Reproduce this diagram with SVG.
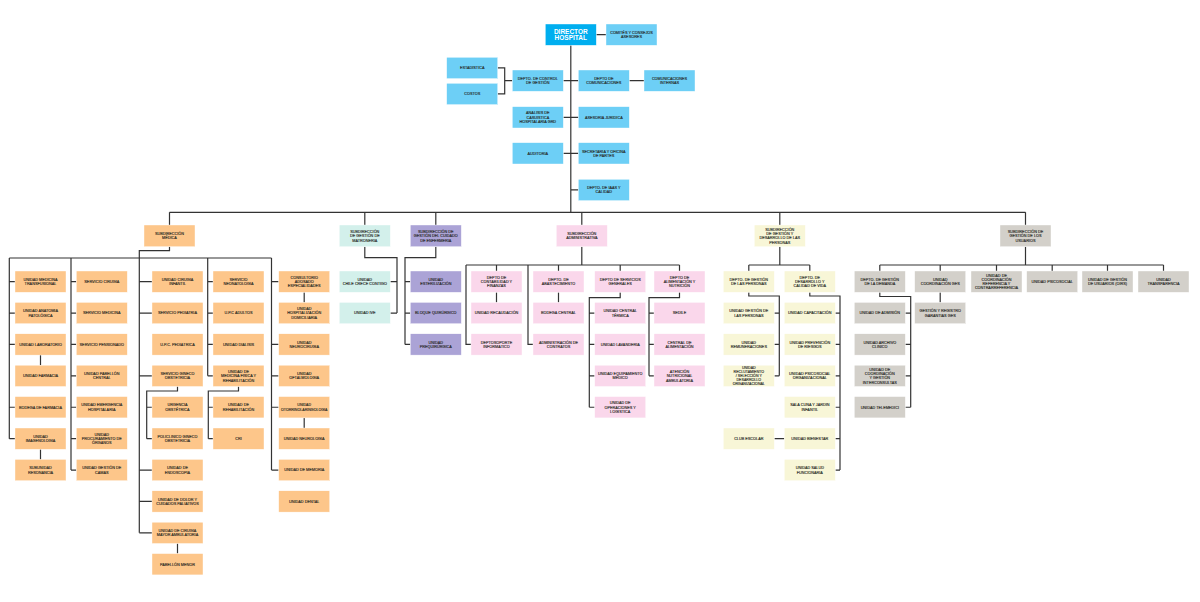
<svg xmlns="http://www.w3.org/2000/svg" width="1200" height="602" viewBox="0 0 1200 602">
<style>
rect{stroke:#ffffff;stroke-width:0.4}
.dir{fill:#00AEEF}.blu{fill:#6DCFF6}.med{fill:#FDC68A}.mat{fill:#D3F0EB}.enf{fill:#ABA3D6}.adm{fill:#FAD7EB}.per{fill:#F8F6D7}.usu{fill:#D3D0CA}
text{font-family:"Liberation Sans",Arial,sans-serif;font-size:3.8px;fill:#231F20;stroke:#231F20;stroke-width:0.12;text-anchor:middle}
.dt{font-size:6.5px;font-weight:bold;fill:#ffffff;stroke:none}
#connectors path{fill:none;stroke:#333333;stroke-width:1.2}
</style>
<rect width="1200" height="602" fill="#ffffff" stroke="none"/>
<g id="connectors">
<path d="M570.8 45.3V212.3M596.3 34.65H606M497.7 67.95H504.7V93.95H497.7M504.7 80.65H512.3M563.3 80.65H578.3M629.3 80.65H644M563.3 117.35H578.3M563.3 153.35H578.3M570.8 189.95H578.3"/>
<path d="M169.5 212.3H1025.5M169.5 212.3V225M364.8 212.3V225M435.8 212.3V225M581.8 212.3V225M779.8 212.3V225M1025.5 212.3V225"/>
<path d="M169.5 246.7V250.7H139.3V532.85M9.3 258H271.5M9.3 258V438.65M9.3 281.65H15M9.3 313.05H15M9.3 344.45H15M9.3 407.25H15M9.3 438.65H15M40.5 355.1V365.2M40.5 449.3V459.4"/>
<path d="M71 258V470.05M71 281.65H76.3M71 313.05H76.3M71 344.45H76.3M71 375.85H76.3M71 407.25H76.3M71 438.65H76.3M71 470.05H76.3"/>
<path d="M139.3 281.65H152M139.3 313.05H152M139.3 375.85H152M139.3 470.05H152M139.3 501.45H152M139.3 532.85H152M177.5 386.5V391H146.7V438.65M146.7 407.25H152M146.7 438.65H152M177.5 543.5V553.6"/>
<path d="M207.7 258V375.85M207.7 281.65H213M207.7 313.05H213M207.7 344.45H213M207.7 375.85H213M238.5 386.5V391H208.3V438.65M208.3 407.25H213M208.3 438.65H213"/>
<path d="M271.5 258V470.05M271.5 281.65H278.7M271.5 344.45H278.7M271.5 375.85H278.7M271.5 407.25H278.7M271.5 470.05H278.7M304.2 292.3V302.4M304.2 417.9V428"/>
<path d="M364.8 246.7V257.7H397V313.05M397 281.65H390.3M397 313.05H390.3"/>
<path d="M435.8 246.7V257.7H405V344.45M405 281.65H410.3M405 313.05H410.3M405 344.45H410.3"/>
<path d="M581.8 246.7V265M466 265H679.5M496.5 265V271M558.5 265V271M620.2 265V271M679.5 265V271M466 265V344.45H471M528 265V344.45H533M496.5 292.3V302.4M558.5 292.3V302.4"/>
<path d="M620.2 292.3V297.7H589.3V407.25M589.3 313.05H594.7M589.3 344.45H594.7M589.3 375.85H594.7M589.3 407.25H594.7M679.5 292.3V297.7H649V375.85M649 313.05H654M649 344.45H654M649 375.85H654"/>
<path d="M779.8 246.7V265M748.8 265H809.8M748.8 265V271M809.8 265V271M748.8 292.3V296H779.3V375.85M779.3 313.05H774.3M779.3 344.45H774.3M779.3 375.85H774.3"/>
<path d="M809.8 292.3V296H840V470.05M840 313.05H835.3M840 344.45H835.3M840 375.85H835.3M840 407.25H835.3M840 438.65H835.3M840 470.05H835.3M774.3 438.65H784.3"/>
<path d="M1025.5 246.7V265M879.8 265H1163.5M879.8 265V271M940.2 265V271M996.5 265V271M1052.2 265V271M1107.5 265V271M1163.5 265V271M879.8 292.3V296.5H910.7V407.25M910.7 313.05H905.3M910.7 344.45H905.3M910.7 375.85H905.3M910.7 407.25H905.3M940.2 292.3V302.4"/>
</g>

<g id="director"><rect class="dir" x="545.3" y="24" width="51" height="21.3"/><text class="dt" x="570.8" y="33.63"><tspan x="570.8">DIRECTOR</tspan><tspan x="570.8" dy="6.7">HOSPITAL</tspan></text></g>
<g id="comites"><rect class="blu" x="606" y="24" width="51" height="21.3"/><text x="631.5" y="33.86"><tspan x="631.5">COMITÉS Y CONSEJOS</tspan><tspan x="631.5" dy="4.3">ASESORES</tspan></text></g>
<g id="estadistica"><rect class="blu" x="446.7" y="57.3" width="51" height="21.3"/><text x="472.2" y="69.31">ESTADÍSTICA</text></g>
<g id="costos"><rect class="blu" x="446.7" y="83.3" width="51" height="21.3"/><text x="472.2" y="95.31">COSTOS</text></g>
<g id="control-gestion"><rect class="blu" x="512.3" y="70" width="51" height="21.3"/><text x="537.8" y="79.86"><tspan x="537.8">DEPTO. DE CONTROL</tspan><tspan x="537.8" dy="4.3">DE GESTIÓN</tspan></text></g>
<g id="comunicaciones"><rect class="blu" x="578.3" y="70" width="51" height="21.3"/><text x="603.8" y="79.86"><tspan x="603.8">DEPTO DE</tspan><tspan x="603.8" dy="4.3">COMUNICACIONES</tspan></text></g>
<g id="com-internas"><rect class="blu" x="644" y="70" width="51" height="21.3"/><text x="669.5" y="79.86"><tspan x="669.5">COMUNICACIONES</tspan><tspan x="669.5" dy="4.3">INTERNAS</tspan></text></g>
<g id="analisis-grd"><rect class="blu" x="512.3" y="106.7" width="51" height="21.3"/><text x="537.8" y="114.41"><tspan x="537.8">ANÁLISIS DE</tspan><tspan x="537.8" dy="4.3">CASUÍSTICA</tspan><tspan x="537.8" dy="4.3">HOSPITALARIA GRD</tspan></text></g>
<g id="juridica"><rect class="blu" x="578.3" y="106.7" width="51" height="21.3"/><text x="603.8" y="118.71">ASESORÍA JURÍDICA</text></g>
<g id="auditoria"><rect class="blu" x="512.3" y="142.7" width="51" height="21.3"/><text x="537.8" y="154.71">AUDITORÍA</text></g>
<g id="secretaria"><rect class="blu" x="578.3" y="142.7" width="51" height="21.3"/><text x="603.8" y="152.56"><tspan x="603.8">SECRETARÍA Y OFICINA</tspan><tspan x="603.8" dy="4.3">DE PARTES</tspan></text></g>
<g id="iaas"><rect class="blu" x="578.3" y="179.3" width="51" height="21.3"/><text x="603.8" y="189.16"><tspan x="603.8">DEPTO. DE IAAS Y</tspan><tspan x="603.8" dy="4.3">CALIDAD</tspan></text></g>

<g id="sub-medica"><rect class="med" x="144" y="225" width="51" height="21.7"/><text x="169.5" y="235.06"><tspan x="169.5">SUBDIRECCIÓN</tspan><tspan x="169.5" dy="4.3">MÉDICA</tspan></text></g>
<g id="sub-matroneria"><rect class="mat" x="339.3" y="225" width="51" height="21.7"/><text x="364.8" y="232.91"><tspan x="364.8">SUBDIRECCIÓN</tspan><tspan x="364.8" dy="4.3">DE GESTIÓN DE</tspan><tspan x="364.8" dy="4.3">MATRONERÍA</tspan></text></g>
<g id="sub-enfermeria"><rect class="enf" x="410.3" y="225" width="51" height="21.7"/><text x="435.8" y="232.91"><tspan x="435.8">SUBDIRECCIÓN DE</tspan><tspan x="435.8" dy="4.3">GESTIÓN DEL CUIDADO</tspan><tspan x="435.8" dy="4.3">DE ENFERMERÍA</tspan></text></g>
<g id="sub-administrativa"><rect class="adm" x="556.3" y="225" width="51" height="21.7"/><text x="581.8" y="235.06"><tspan x="581.8">SUBDIRECCIÓN</tspan><tspan x="581.8" dy="4.3">ADMINISTRATIVA</tspan></text></g>
<g id="sub-personas"><rect class="per" x="754.3" y="225" width="51" height="21.7"/><text x="779.8" y="230.76"><tspan x="779.8">SUBDIRECCIÓN</tspan><tspan x="779.8" dy="4.3">DE GESTIÓN Y</tspan><tspan x="779.8" dy="4.3">DESARROLLO DE LAS</tspan><tspan x="779.8" dy="4.3">PERSONAS</tspan></text></g>
<g id="sub-usuarios"><rect class="usu" x="1000" y="225" width="51" height="21.7"/><text x="1025.5" y="232.91"><tspan x="1025.5">SUBDIRECCIÓN DE</tspan><tspan x="1025.5" dy="4.3">GESTIÓN DE LOS</tspan><tspan x="1025.5" dy="4.3">USUARIOS</tspan></text></g>

<g id="med-transfusional"><rect class="med" x="15" y="271" width="51" height="21.3"/><text x="40.5" y="280.86"><tspan x="40.5">UNIDAD MEDICINA</tspan><tspan x="40.5" dy="4.3">TRANSFUSIONAL</tspan></text></g>
<g id="anatomia"><rect class="med" x="15" y="302.4" width="51" height="21.3"/><text x="40.5" y="312.26"><tspan x="40.5">UNIDAD ANATOMÍA</tspan><tspan x="40.5" dy="4.3">PATOLÓGICA</tspan></text></g>
<g id="laboratorio"><rect class="med" x="15" y="333.8" width="51" height="21.3"/><text x="40.5" y="345.81">UNIDAD LABORATORIO</text></g>
<g id="farmacia"><rect class="med" x="15" y="365.2" width="51" height="21.3"/><text x="40.5" y="377.21">UNIDAD FARMACIA</text></g>
<g id="bodega-farmacia"><rect class="med" x="15" y="396.6" width="51" height="21.3"/><text x="40.5" y="408.61">BODEGA DE FARMACIA</text></g>
<g id="imagenologia"><rect class="med" x="15" y="428" width="51" height="21.3"/><text x="40.5" y="437.86"><tspan x="40.5">UNIDAD</tspan><tspan x="40.5" dy="4.3">IMAGENOLOGÍA</tspan></text></g>
<g id="resonancia"><rect class="med" x="15" y="459.4" width="51" height="21.3"/><text x="40.5" y="469.26"><tspan x="40.5">SUBUNIDAD</tspan><tspan x="40.5" dy="4.3">RESONANCIA</tspan></text></g>

<g id="cirugia"><rect class="med" x="76.3" y="271" width="51" height="21.3"/><text x="101.8" y="283.01">SERVICIO CIRUGÍA</text></g>
<g id="medicina"><rect class="med" x="76.3" y="302.4" width="51" height="21.3"/><text x="101.8" y="314.41">SERVICIO MEDICINA</text></g>
<g id="pensionado"><rect class="med" x="76.3" y="333.8" width="51" height="21.3"/><text x="101.8" y="345.81">SERVICIO PENSIONADO</text></g>
<g id="pabellon-central"><rect class="med" x="76.3" y="365.2" width="51" height="21.3"/><text x="101.8" y="375.06"><tspan x="101.8">UNIDAD PABELLÓN</tspan><tspan x="101.8" dy="4.3">CENTRAL</tspan></text></g>
<g id="emergencia"><rect class="med" x="76.3" y="396.6" width="51" height="21.3"/><text x="101.8" y="406.46"><tspan x="101.8">UNIDAD EMERGENCIA</tspan><tspan x="101.8" dy="4.3">HOSPITALARIA</tspan></text></g>
<g id="procuramiento"><rect class="med" x="76.3" y="428" width="51" height="21.3"/><text x="101.8" y="435.71"><tspan x="101.8">UNIDAD</tspan><tspan x="101.8" dy="4.3">PROCURAMIENTO DE</tspan><tspan x="101.8" dy="4.3">ÓRGANOS</tspan></text></g>
<g id="gestion-camas"><rect class="med" x="76.3" y="459.4" width="51" height="21.3"/><text x="101.8" y="469.26"><tspan x="101.8">UNIDAD GESTIÓN DE</tspan><tspan x="101.8" dy="4.3">CAMAS</tspan></text></g>

<g id="cirugia-infantil"><rect class="med" x="152" y="271" width="51" height="21.3"/><text x="177.5" y="280.86"><tspan x="177.5">UNIDAD CIRUGÍA</tspan><tspan x="177.5" dy="4.3">INFANTIL</tspan></text></g>
<g id="pediatria"><rect class="med" x="152" y="302.4" width="51" height="21.3"/><text x="177.5" y="314.41">SERVICIO PEDIATRÍA</text></g>
<g id="upc-pediatrica"><rect class="med" x="152" y="333.8" width="51" height="21.3"/><text x="177.5" y="345.81">U.P.C. PEDIÁTRICA</text></g>
<g id="gineco"><rect class="med" x="152" y="365.2" width="51" height="21.3"/><text x="177.5" y="375.06"><tspan x="177.5">SERVICIO GINECO</tspan><tspan x="177.5" dy="4.3">OBSTETRICIA</tspan></text></g>
<g id="urgencia-obst"><rect class="med" x="152" y="396.6" width="51" height="21.3"/><text x="177.5" y="406.46"><tspan x="177.5">URGENCIA</tspan><tspan x="177.5" dy="4.3">OBSTÉTRICA</tspan></text></g>
<g id="policlinico"><rect class="med" x="152" y="428" width="51" height="21.3"/><text x="177.5" y="437.86"><tspan x="177.5">POLICLÍNICO GINECO</tspan><tspan x="177.5" dy="4.3">OBSTETRICIA</tspan></text></g>
<g id="endoscopia"><rect class="med" x="152" y="459.4" width="51" height="21.3"/><text x="177.5" y="469.26"><tspan x="177.5">UNIDAD DE</tspan><tspan x="177.5" dy="4.3">ENDOSCOPÍA</tspan></text></g>
<g id="dolor"><rect class="med" x="152" y="490.8" width="51" height="21.3"/><text x="177.5" y="500.66"><tspan x="177.5">UNIDAD DE DOLOR Y</tspan><tspan x="177.5" dy="4.3">CUIDADOS PALIATIVOS</tspan></text></g>
<g id="cma"><rect class="med" x="152" y="522.2" width="51" height="21.3"/><text x="177.5" y="532.06"><tspan x="177.5">UNIDAD DE CIRUGÍA</tspan><tspan x="177.5" dy="4.3">MAYOR AMBULATORIA</tspan></text></g>
<g id="pabellon-menor"><rect class="med" x="152" y="553.6" width="51" height="21.3"/><text x="177.5" y="565.61">PABELLÓN MENOR</text></g>

<g id="neonatologia"><rect class="med" x="213" y="271" width="51" height="21.3"/><text x="238.5" y="280.86"><tspan x="238.5">SERVICIO</tspan><tspan x="238.5" dy="4.3">NEONATOLOGÍA</tspan></text></g>
<g id="upc-adultos"><rect class="med" x="213" y="302.4" width="51" height="21.3"/><text x="238.5" y="314.41">U.P.C ADULTOS</text></g>
<g id="dialisis"><rect class="med" x="213" y="333.8" width="51" height="21.3"/><text x="238.5" y="345.81">UNIDAD DIÁLISIS</text></g>
<g id="medicina-fisica"><rect class="med" x="213" y="365.2" width="51" height="21.3"/><text x="238.5" y="372.91"><tspan x="238.5">UNIDAD DE</tspan><tspan x="238.5" dy="4.3">MEDICINA FÍSICA Y</tspan><tspan x="238.5" dy="4.3">REHABILITACIÓN</tspan></text></g>
<g id="rehabilitacion"><rect class="med" x="213" y="396.6" width="51" height="21.3"/><text x="238.5" y="406.46"><tspan x="238.5">UNIDAD DE</tspan><tspan x="238.5" dy="4.3">REHABILITACIÓN</tspan></text></g>
<g id="cri"><rect class="med" x="213" y="428" width="51" height="21.3"/><text x="238.5" y="440.01">CRI</text></g>

<g id="consultorio"><rect class="med" x="278.7" y="271" width="51" height="21.3"/><text x="304.2" y="278.71"><tspan x="304.2">CONSULTORIO</tspan><tspan x="304.2" dy="4.3">ADOSADO</tspan><tspan x="304.2" dy="4.3">ESPECIALIDADES</tspan></text></g>
<g id="hosp-domiciliaria"><rect class="med" x="278.7" y="302.4" width="51" height="21.3"/><text x="304.2" y="310.11"><tspan x="304.2">UNIDAD</tspan><tspan x="304.2" dy="4.3">HOSPITALIZACIÓN</tspan><tspan x="304.2" dy="4.3">DOMICILIARIA</tspan></text></g>
<g id="neurocirugia"><rect class="med" x="278.7" y="333.8" width="51" height="21.3"/><text x="304.2" y="343.66"><tspan x="304.2">UNIDAD</tspan><tspan x="304.2" dy="4.3">NEUROCIRUGÍA</tspan></text></g>
<g id="oftalmologia"><rect class="med" x="278.7" y="365.2" width="51" height="21.3"/><text x="304.2" y="375.06"><tspan x="304.2">UNIDAD</tspan><tspan x="304.2" dy="4.3">OFTALMOLOGÍA</tspan></text></g>
<g id="otorrino"><rect class="med" x="278.7" y="396.6" width="51" height="21.3"/><text x="304.2" y="406.46" style="font-size:3.6px"><tspan x="304.2">UNIDAD</tspan><tspan x="304.2" dy="4.3">OTORRINOLARINGOLOGÍA</tspan></text></g>
<g id="neurologia"><rect class="med" x="278.7" y="428" width="51" height="21.3"/><text x="304.2" y="440.01">UNIDAD NEUROLOGÍA</text></g>
<g id="memoria"><rect class="med" x="278.7" y="459.4" width="51" height="21.3"/><text x="304.2" y="471.41">UNIDAD DE MEMORIA</text></g>
<g id="dental"><rect class="med" x="278.7" y="490.8" width="51" height="21.3"/><text x="304.2" y="502.81">UNIDAD DENTAL</text></g>

<g id="chile-crece"><rect class="mat" x="339.3" y="271" width="51" height="21.3"/><text x="364.8" y="280.86"><tspan x="364.8">UNIDAD</tspan><tspan x="364.8" dy="4.3">CHILE CRECE CONTIGO</tspan></text></g>
<g id="ive"><rect class="mat" x="339.3" y="302.4" width="51" height="21.3"/><text x="364.8" y="314.41">UNIDAD IVE</text></g>

<g id="esterilizacion"><rect class="enf" x="410.3" y="271" width="51" height="21.3"/><text x="435.8" y="280.86"><tspan x="435.8">UNIDAD</tspan><tspan x="435.8" dy="4.3">ESTERILIZACIÓN</tspan></text></g>
<g id="bloque-quirurgico"><rect class="enf" x="410.3" y="302.4" width="51" height="21.3"/><text x="435.8" y="314.41">BLOQUE QUIRÚRGICO</text></g>
<g id="prequirurgica"><rect class="enf" x="410.3" y="333.8" width="51" height="21.3"/><text x="435.8" y="343.66"><tspan x="435.8">UNIDAD</tspan><tspan x="435.8" dy="4.3">PREQUIRÚRGICA</tspan></text></g>

<g id="contabilidad"><rect class="adm" x="471" y="271" width="51" height="21.3"/><text x="496.5" y="278.71"><tspan x="496.5">DEPTO DE</tspan><tspan x="496.5" dy="4.3">CONTABILIDAD Y</tspan><tspan x="496.5" dy="4.3">FINANZAS</tspan></text></g>
<g id="recaudacion"><rect class="adm" x="471" y="302.4" width="51" height="21.3"/><text x="496.5" y="314.41">UNIDAD RECAUDACIÓN</text></g>
<g id="soporte-informatico"><rect class="adm" x="471" y="333.8" width="51" height="21.3"/><text x="496.5" y="343.66"><tspan x="496.5">DEPTOSOPORTE</tspan><tspan x="496.5" dy="4.3">INFORMÁTICO</tspan></text></g>
<g id="abastecimiento"><rect class="adm" x="533" y="271" width="51" height="21.3"/><text x="558.5" y="280.86"><tspan x="558.5">DEPTO. DE</tspan><tspan x="558.5" dy="4.3">ABASTECIMIENTO</tspan></text></g>
<g id="bodega-central"><rect class="adm" x="533" y="302.4" width="51" height="21.3"/><text x="558.5" y="314.41">BODEGA CENTRAL</text></g>
<g id="contratos"><rect class="adm" x="533" y="333.8" width="51" height="21.3"/><text x="558.5" y="343.66"><tspan x="558.5">ADMINISTRACIÓN DE</tspan><tspan x="558.5" dy="4.3">CONTRATOS</tspan></text></g>
<g id="servicios-generales"><rect class="adm" x="594.7" y="271" width="51" height="21.3"/><text x="620.2" y="280.86"><tspan x="620.2">DEPTO DE SERVICIOS</tspan><tspan x="620.2" dy="4.3">GENERALES</tspan></text></g>
<g id="central-termica"><rect class="adm" x="594.7" y="302.4" width="51" height="21.3"/><text x="620.2" y="312.26"><tspan x="620.2">UNIDAD CENTRAL</tspan><tspan x="620.2" dy="4.3">TÉRMICA</tspan></text></g>
<g id="lavanderia"><rect class="adm" x="594.7" y="333.8" width="51" height="21.3"/><text x="620.2" y="345.81">UNIDAD LAVANDERÍA</text></g>
<g id="equipamiento"><rect class="adm" x="594.7" y="365.2" width="51" height="21.3"/><text x="620.2" y="375.06"><tspan x="620.2">UNIDAD EQUIPAMIENTO</tspan><tspan x="620.2" dy="4.3">MÉDICO</tspan></text></g>
<g id="operaciones"><rect class="adm" x="594.7" y="396.6" width="51" height="21.3"/><text x="620.2" y="404.31"><tspan x="620.2">UNIDAD DE</tspan><tspan x="620.2" dy="4.3">OPERACIONES Y</tspan><tspan x="620.2" dy="4.3">LOGÍSTICA</tspan></text></g>
<g id="alimentacion"><rect class="adm" x="654" y="271" width="51" height="21.3"/><text x="679.5" y="278.71"><tspan x="679.5">DEPTO DE</tspan><tspan x="679.5" dy="4.3">ALIMENTACIÓN Y</tspan><tspan x="679.5" dy="4.3">NUTRICIÓN</tspan></text></g>
<g id="sedile"><rect class="adm" x="654" y="302.4" width="51" height="21.3"/><text x="679.5" y="314.41">SEDILE</text></g>
<g id="central-alimentacion"><rect class="adm" x="654" y="333.8" width="51" height="21.3"/><text x="679.5" y="343.66"><tspan x="679.5">CENTRAL DE</tspan><tspan x="679.5" dy="4.3">ALIMENTACIÓN</tspan></text></g>
<g id="atencion-nutricional"><rect class="adm" x="654" y="365.2" width="51" height="21.3"/><text x="679.5" y="372.91"><tspan x="679.5">ATENCIÓN</tspan><tspan x="679.5" dy="4.3">NUTRICIONAL</tspan><tspan x="679.5" dy="4.3">AMBULATORIA</tspan></text></g>

<g id="gestion-personas"><rect class="per" x="723.3" y="271" width="51" height="21.3"/><text x="748.8" y="280.86"><tspan x="748.8">DEPTO. DE GESTIÓN</tspan><tspan x="748.8" dy="4.3">DE LAS PERSONAS</tspan></text></g>
<g id="u-gestion-personas"><rect class="per" x="723.3" y="302.4" width="51" height="21.3"/><text x="748.8" y="312.26"><tspan x="748.8">UNIDAD GESTIÓN DE</tspan><tspan x="748.8" dy="4.3">LAS PERSONAS</tspan></text></g>
<g id="remuneraciones"><rect class="per" x="723.3" y="333.8" width="51" height="21.3"/><text x="748.8" y="343.66"><tspan x="748.8">UNIDAD</tspan><tspan x="748.8" dy="4.3">REMUNERACIONES</tspan></text></g>
<g id="reclutamiento"><rect class="per" x="723.3" y="365.2" width="51" height="21.3"/><text x="748.8" y="369.34" style="font-size:3.6px"><tspan x="748.8">UNIDAD</tspan><tspan x="748.8" dy="3.9">RECLUTAMIENTO</tspan><tspan x="748.8" dy="3.9">/ SELECCIÓN Y</tspan><tspan x="748.8" dy="3.9">DESARROLLO</tspan><tspan x="748.8" dy="3.9">ORGANIZACIONAL</tspan></text></g>
<g id="club-escolar"><rect class="per" x="723.3" y="428" width="51" height="21.3"/><text x="748.8" y="440.01">CLUB ESCOLAR</text></g>
<g id="desarrollo-calidad"><rect class="per" x="784.3" y="271" width="51" height="21.3"/><text x="809.8" y="278.71"><tspan x="809.8">DEPTO. DE</tspan><tspan x="809.8" dy="4.3">DESARROLLO Y</tspan><tspan x="809.8" dy="4.3">CALIDAD DE VIDA</tspan></text></g>
<g id="capacitacion"><rect class="per" x="784.3" y="302.4" width="51" height="21.3"/><text x="809.8" y="314.41">UNIDAD CAPACITACIÓN</text></g>
<g id="prevencion"><rect class="per" x="784.3" y="333.8" width="51" height="21.3"/><text x="809.8" y="343.66"><tspan x="809.8">UNIDAD PREVENCIÓN</tspan><tspan x="809.8" dy="4.3">DE RIESGOS</tspan></text></g>
<g id="psicosocial-org"><rect class="per" x="784.3" y="365.2" width="51" height="21.3"/><text x="809.8" y="375.06"><tspan x="809.8">UNIDAD PSICOSOCIAL</tspan><tspan x="809.8" dy="4.3">ORGANIZACIONAL</tspan></text></g>
<g id="sala-cuna"><rect class="per" x="784.3" y="396.6" width="51" height="21.3"/><text x="809.8" y="406.46"><tspan x="809.8">SALA CUNA Y JARDÍN</tspan><tspan x="809.8" dy="4.3">INFANTIL</tspan></text></g>
<g id="bienestar"><rect class="per" x="784.3" y="428" width="51" height="21.3"/><text x="809.8" y="440.01">UNIDAD BIENESTAR</text></g>
<g id="salud-funcionaria"><rect class="per" x="784.3" y="459.4" width="51" height="21.3"/><text x="809.8" y="469.26"><tspan x="809.8">UNIDAD SALUD</tspan><tspan x="809.8" dy="4.3">FUNCIONARIA</tspan></text></g>

<g id="gestion-demanda"><rect class="usu" x="854.3" y="271" width="51" height="21.3"/><text x="879.8" y="280.86"><tspan x="879.8">DEPTO. DE GESTIÓN</tspan><tspan x="879.8" dy="4.3">DE LA DEMANDA</tspan></text></g>
<g id="admision"><rect class="usu" x="854.3" y="302.4" width="51" height="21.3"/><text x="879.8" y="314.41">UNIDAD DE ADMISIÓN</text></g>
<g id="archivo"><rect class="usu" x="854.3" y="333.8" width="51" height="21.3"/><text x="879.8" y="343.66"><tspan x="879.8">UNIDAD ARCHIVO</tspan><tspan x="879.8" dy="4.3">CLÍNICO</tspan></text></g>
<g id="interconsultas"><rect class="usu" x="854.3" y="365.2" width="51" height="21.3"/><text x="879.8" y="370.76"><tspan x="879.8">UNIDAD DE</tspan><tspan x="879.8" dy="4.3">COORDINACIÓN</tspan><tspan x="879.8" dy="4.3">Y GESTIÓN</tspan><tspan x="879.8" dy="4.3">INTERCONSULTAS</tspan></text></g>
<g id="telemedicina"><rect class="usu" x="854.3" y="396.6" width="51" height="21.3"/><text x="879.8" y="408.61">UNIDAD TELEMEDICI</text></g>
<g id="coordinacion-ges"><rect class="usu" x="914.7" y="271" width="51" height="21.3"/><text x="940.2" y="280.86"><tspan x="940.2">UNIDAD</tspan><tspan x="940.2" dy="4.3">COORDINACIÓN GES</tspan></text></g>
<g id="garantias-ges"><rect class="usu" x="914.7" y="302.4" width="51" height="21.3"/><text x="940.2" y="312.26"><tspan x="940.2">GESTIÓN Y REGISTRO</tspan><tspan x="940.2" dy="4.3">GARANTÍAS GES</tspan></text></g>
<g id="referencia"><rect class="usu" x="971" y="271" width="51" height="21.3"/><text x="996.5" y="276.56"><tspan x="996.5">UNIDAD DE</tspan><tspan x="996.5" dy="4.3">COORDINACIÓN</tspan><tspan x="996.5" dy="4.3">REFERENCIA Y</tspan><tspan x="996.5" dy="4.3">CONTRARREFERENCIA</tspan></text></g>
<g id="psicosocial"><rect class="usu" x="1026.7" y="271" width="51" height="21.3"/><text x="1052.2" y="283.01">UNIDAD PSICOSOCIAL</text></g>
<g id="oirs"><rect class="usu" x="1082" y="271" width="51" height="21.3"/><text x="1107.5" y="280.86"><tspan x="1107.5">UNIDAD DE GESTIÓN</tspan><tspan x="1107.5" dy="4.3">DE USUARIOS (OIRS)</tspan></text></g>
<g id="transparencia"><rect class="usu" x="1138" y="271" width="51" height="21.3"/><text x="1163.5" y="280.86"><tspan x="1163.5">UNIDAD</tspan><tspan x="1163.5" dy="4.3">TRANSPARENCIA</tspan></text></g>
</svg>
